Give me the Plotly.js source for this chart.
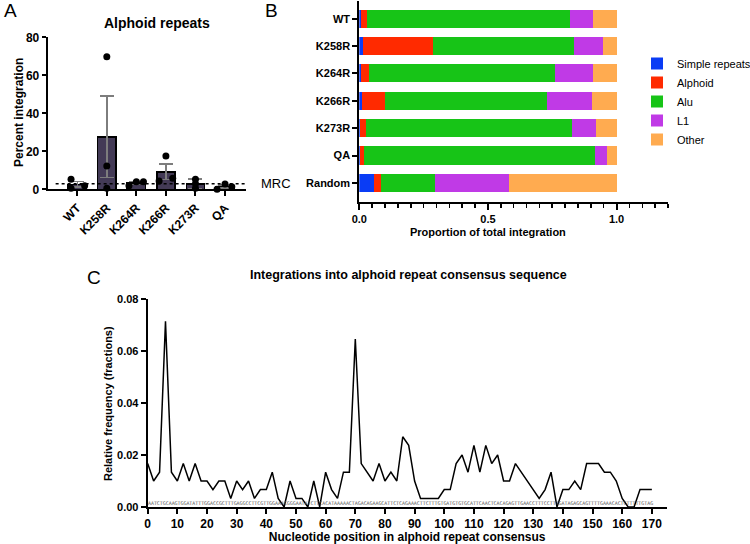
<!DOCTYPE html>
<html>
<head>
<meta charset="utf-8">
<script src="https://cdn.plot.ly/plotly-3.0.1.min.js"></script>
<style>html,body{margin:0;padding:0;background:#fff;overflow:hidden;}#chart{width:750px;height:544px;}</style>
</head>
<body>
<div id="chart"></div>
<script>
// ---------- Panel A: Alphoid repeats ----------
const groupsA = ['WT', 'K258R', 'K264R', 'K266R', 'K273R', 'QA'];
const meanA = [2.6, 27.6, 3.3, 9.2, 2.9, 1.4];
const semA = [1.4, 21.4, 0.7, 4.1, 2.4, 0.8];
const dotGroupA = [0, 0, 0, 1, 1, 1, 2, 2, 2, 3, 3, 3, 4, 4, 4, 5, 5, 5];
const dotValueA = [5.3, 0.5, 1.9, 69.8, 12.3, 0.6, 1.9, 4.0, 4.0, 17.5, 4.4, 5.8, 5.3, 0.5, 2.9, 0.0, 2.8, 1.4];
const dotJitterA = [-0.21, -0.21, 0.25, 0, 0, 0, -0.25, 0, 0.24, 0, -0.23, 0.23, 0, 0, 0, -0.27, 0, 0.23];
const mrcValue = 2.95;

// ---------- Panel B: proportions ----------
const catsB = ['WT', 'K258R', 'K264R', 'K266R', 'K273R', 'QA', 'Random'];
const simpleB = [0.007, 0.013, 0.008, 0.010, 0.003, 0.002, 0.057];
const alphoidB = [0.024, 0.275, 0.030, 0.091, 0.022, 0.018, 0.029];
const aluB = [0.788, 0.545, 0.724, 0.629, 0.800, 0.897, 0.209];
const l1B = [0.088, 0.115, 0.147, 0.175, 0.095, 0.047, 0.288];
const otherB = [0.093, 0.052, 0.091, 0.095, 0.080, 0.036, 0.417];
const seriesNamesB = ['Simple repeats', 'Alphoid', 'Alu', 'L1', 'Other'];

// ---------- Panel C: integration frequency ----------
const posC = [0, 2, 4, 6, 8, 10, 12, 14, 16, 18, 20, 22, 24, 26, 28, 30, 32, 34, 36, 38, 40, 42, 44, 46, 48, 50,
  52, 54, 56, 58, 60, 62, 64, 66, 68, 70, 72, 74, 76, 78, 80, 82, 84, 86, 88, 90, 92, 94, 96, 98, 100,
  102, 104, 106, 108, 110, 112, 114, 116, 118, 120, 122, 124, 126, 128, 130, 132, 134, 136, 138, 140,
  142, 144, 146, 148, 150, 152, 154, 156, 158, 160, 162, 164, 166, 168, 170];
const freqC = [0.0167, 0.0100, 0.0134, 0.0714, 0.0134, 0.0100, 0.0167, 0.0100, 0.0167, 0.0100, 0.0100, 0.0067,
  0.0100, 0.0100, 0.0033, 0.0100, 0.0067, 0.0100, 0.0033, 0.0067, 0.0067, 0.0134, 0.0033, 0.0, 0.0100, 0.0033,
  0.0033, 0.0, 0.0100, 0.0, 0.0134, 0.0067, 0.0033, 0.0134, 0.0134, 0.0646, 0.0167, 0.0134, 0.0100, 0.0167,
  0.0100, 0.0134, 0.0100, 0.0270, 0.0237, 0.0100, 0.0033, 0.0033, 0.0033, 0.0033, 0.0067,
  0.0067, 0.0167, 0.0200, 0.0134, 0.0237, 0.0134, 0.0237, 0.0167, 0.0200, 0.0100, 0.0100, 0.0167, 0.0134,
  0.0100, 0.0067, 0.0033, 0.0067, 0.0134, 0.0, 0.0067,
  0.0067, 0.0100, 0.0067, 0.0167, 0.0167, 0.0167, 0.0134, 0.0134, 0.0100, 0.0033, 0.0, 0.0, 0.0067, 0.0067, 0.0067];
const consensusSeq = 'AATCTGCAAGTGGATATTTGGACCGCTTTGAGGCCTTCGTTGGAAACGGGAATATCTTCACATAAAAACTAGACAGAAGCATTCTCAGAAACTTCTTTGTGATGTGTGCATTCAACTCACAGAGTTGAACCTTTCCTTTGATAGAGCAGTTTTGAAACACTCTTTTTGTAG';

// ---------- styling ----------
const FONT = 'Liberation Sans, Arial, Helvetica, sans-serif';
const colorsB = ['#0a3cf5', '#ff2a00', '#17c417', '#c03ae6', '#ffab50'];
const W = 750, H = 544;
const px = v => v / W;
const py = v => 1 - v / H;

const traces = [];
traces.push({
  type: 'bar', x: groupsA.map((g, i) => i), y: meanA, width: 0.62,
  xaxis: 'x', yaxis: 'y', showlegend: false,
  marker: {color: '#433a56', line: {color: '#000', width: 1.5}},
  error_y: {type: 'data', array: semA, visible: true, color: '#7d7d7d', thickness: 1.5, width: 7}
});
traces.push({
  type: 'scatter', mode: 'markers', xaxis: 'x', yaxis: 'y', showlegend: false, cliponaxis: false,
  x: dotGroupA.map((g, i) => g + dotJitterA[i]), y: dotValueA,
  marker: {color: '#000', size: 7}
});
const dataB = [simpleB, alphoidB, aluB, l1B, otherB];
dataB.forEach((arr, k) => {
  traces.push({
    type: 'bar', orientation: 'h', name: seriesNamesB[k], x: arr, y: catsB, width: 0.66,
    xaxis: 'x2', yaxis: 'y2',
    marker: {color: colorsB[k], line: {width: 0}}
  });
});
traces.push({
  type: 'scatter', mode: 'lines', x: posC, y: freqC, xaxis: 'x3', yaxis: 'y3', showlegend: false,
  line: {color: '#000', width: 1.5}, cliponaxis: false
});

const axisBase = {
  showline: true, linecolor: '#000', linewidth: 2, ticks: 'outside', ticklen: 5, tickwidth: 2,
  tickcolor: '#000', showgrid: false, zeroline: false, fixedrange: true, automargin: false
};
const boldTick = s => ({family: FONT, size: s, color: '#000', weight: 'bold'});

const layout = {
  width: W, height: H, autosize: false,
  margin: {l: 0, r: 0, t: 0, b: 0, pad: 0, autoexpand: false},
  paper_bgcolor: '#fff', plot_bgcolor: 'rgba(0,0,0,0)',
  font: {family: FONT, color: '#000'},
  barmode: 'stack',
  xaxis: Object.assign({}, axisBase, {
    domain: [px(47.7), px(246)], range: [-1.0, 5.71], anchor: 'y',
    tickmode: 'array', tickvals: groupsA.map((g, i) => i), ticktext: groupsA,
    tickangle: -45, tickfont: boldTick(12)
  }),
  yaxis: Object.assign({}, axisBase, {
    domain: [py(189.3), py(37.3)], range: [0, 80], dtick: 20, anchor: 'x', ticklen: 4,
    tickfont: boldTick(12)
  }),
  xaxis2: Object.assign({}, axisBase, {
    domain: [px(359.3), px(668)], range: [0, 1.2], dtick: 0.5, tickformat: '.1f', anchor: 'y2',
    ticklen: 6, tickfont: boldTick(11),
    minor: {dtick: 0.05, ticks: 'outside', ticklen: 4, tickwidth: 1.5, tickcolor: '#000', showgrid: false}
  }),
  yaxis2: Object.assign({}, axisBase, {
    domain: [py(202), py(1)], type: 'category', categoryorder: 'array', categoryarray: catsB,
    range: [6.7, -0.65], anchor: 'x2', tickfont: boldTick(11)
  }),
  xaxis3: Object.assign({}, axisBase, {
    domain: [px(147.7), px(666.7)], range: [0, 175], dtick: 10, anchor: 'y3',
    tickfont: boldTick(12),
    title: {text: 'Nucleotide position in alphoid repeat consensus', font: boldTick(12), standoff: 4}
  }),
  yaxis3: Object.assign({}, axisBase, {
    domain: [py(507), py(299)], range: [0, 0.08], dtick: 0.02, tickformat: '.2f', anchor: 'x3',
    tickfont: boldTick(11)
  }),
  legend: {
    x: px(637), y: py(49), xanchor: 'left', yanchor: 'top',
    font: {family: FONT, size: 11, color: '#000'}, traceorder: 'normal',
    bgcolor: 'rgba(0,0,0,0)', itemwidth: 30
  },
  shapes: [{
    type: 'line', xref: 'x domain', yref: 'y', x0: 0.04, x1: 1, y0: mrcValue, y1: mrcValue,
    line: {color: '#000', width: 1.5, dash: 'dot'}
  }],
  annotations: [
    {text: 'A', xref: 'paper', yref: 'paper', x: px(2), y: py(10), xanchor: 'left', yanchor: 'middle', showarrow: false, font: {family: FONT, size: 19}},
    {text: 'B', xref: 'paper', yref: 'paper', x: px(263), y: py(10), xanchor: 'left', yanchor: 'middle', showarrow: false, font: {family: FONT, size: 19}},
    {text: 'C', xref: 'paper', yref: 'paper', x: px(85), y: py(277), xanchor: 'left', yanchor: 'middle', showarrow: false, font: {family: FONT, size: 19}},
    {text: 'Alphoid repeats', xref: 'paper', yref: 'paper', x: px(157), y: py(23), xanchor: 'center', yanchor: 'middle', showarrow: false, font: {family: FONT, size: 14, weight: 'bold'}},
    {text: 'Percent integration', xref: 'paper', yref: 'paper', x: px(19), y: py(113), xanchor: 'center', yanchor: 'middle', textangle: -90, showarrow: false, font: {family: FONT, size: 12, weight: 'bold'}},
    {text: 'Relative frequency (fractions)', xref: 'paper', yref: 'paper', x: px(108), y: py(403), xanchor: 'center', yanchor: 'middle', textangle: -90, showarrow: false, font: {family: FONT, size: 11, weight: 'bold'}},
    {text: 'MRC', xref: 'paper', yref: 'paper', x: px(259), y: py(183), xanchor: 'left', yanchor: 'middle', showarrow: false, font: {family: FONT, size: 13}},
    {text: 'Proportion of total integration', xref: 'x2', yref: 'paper', x: 0.5, y: py(232), xanchor: 'center', yanchor: 'middle', showarrow: false, font: {family: FONT, size: 11, weight: 'bold'}},
    {text: 'Integrations into alphoid repeat consensus sequence', xref: 'paper', yref: 'paper', x: px(408), y: py(275), xanchor: 'center', yanchor: 'middle', showarrow: false, font: {family: FONT, size: 12.5, weight: 'bold'}},
    {text: consensusSeq, xref: 'x3', yref: 'y3', x: 0, y: 0, xanchor: 'left', yanchor: 'bottom', xshift: -1, yshift: 0, borderpad: 0, showarrow: false, font: {family: 'DejaVu Sans Mono, monospace', size: 4.93, color: '#555'}}
  ]
};

Plotly.newPlot('chart', traces, layout, {displayModeBar: false, staticPlot: true});
</script>
</body>
</html>
